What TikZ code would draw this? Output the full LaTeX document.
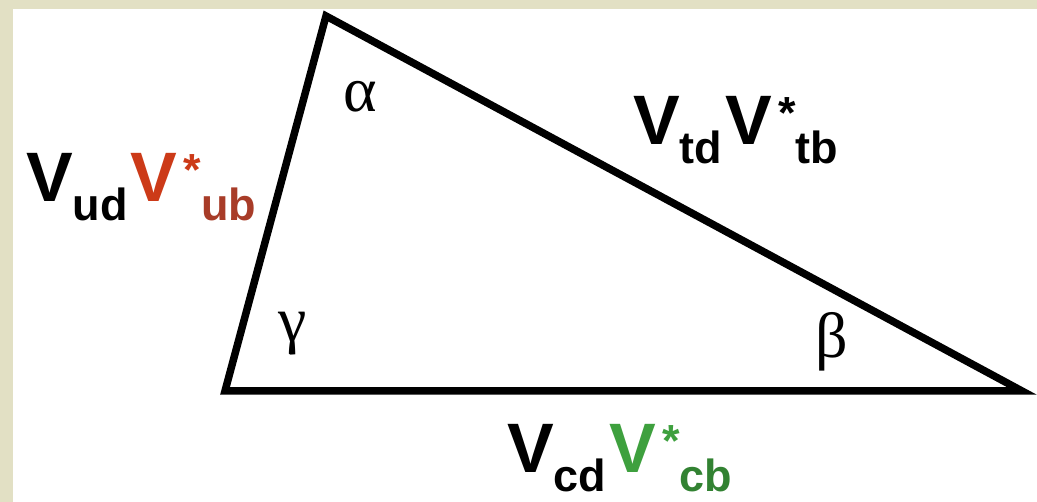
\documentclass[tikz,border=0pt]{standalone}
\usepackage{fontspec}
\setmainfont{Liberation Sans}
\newfontfamily\greekf{Liberation Serif}
\definecolor{beige}{RGB}{226,224,196}
\definecolor{ckmred}{RGB}{204,58,24}
\definecolor{ckmredsub}{RGB}{168,60,40}
\definecolor{ckmgreen}{RGB}{62,160,62}
\definecolor{ckmgreensub}{RGB}{50,130,50}
\newcommand{\bigV}{{\fontsize{70}{70}\selectfont\bfseries V}}
\newcommand{\lowsub}[1]{\raisebox{-19pt}{\fontsize{45}{45}\selectfont\bfseries #1}}
\newcommand{\starup}{\kern6pt\raisebox{16pt}{\fontsize{45}{45}\selectfont\bfseries *}}
% #1 first subscript, #2 colour of second V, #3 colour of its subscript, #4 second subscript
\newcommand{\ckmpair}[4]{\bigV\lowsub{#1}\kern3pt{\color{#2}\bigV\starup}{\color{#3}\lowsub{#4}}}
\tikzset{
  side/.style={line width=7.5pt, line join=miter, draw=black},
  ckmlabel/.style={inner sep=0pt, anchor=base west},
  anglelabel/.style={inner sep=0pt, anchor=base, font=\greekf\fontsize{64}{64}\selectfont}
}
\begin{document}
\begin{tikzpicture}[x=1pt,y=-1pt]
\useasboundingbox (0,0) rectangle (1037,502);
\fill[white] (0,0) rectangle (1037,502);
\fill[beige] (0,0) rectangle (1037,9);
\fill[beige] (0,0) rectangle (13,502);
\coordinate (A) at (326,16);
\coordinate (G) at (225,391);
\coordinate (B) at (1022,391);
\draw[side] (A) -- (B) -- (G) -- cycle;
\node[ckmlabel] (l1) at (26,202) {\ckmpair{ud}{ckmred}{ckmredsub}{ub}};
\node[ckmlabel] (l2) at (633,145) {\ckmpair{td}{black}{black}{tb}};
\node[ckmlabel] (l3) at (507,473) {\ckmpair{cd}{ckmgreen}{ckmgreensub}{cb}};
\node[anglelabel] (alpha) at (360,112) {α};
\node[anglelabel] (gamma) at (293,342) {γ};
\node[anglelabel] (beta) at (832,358) {β};
\end{tikzpicture}
\end{document}
